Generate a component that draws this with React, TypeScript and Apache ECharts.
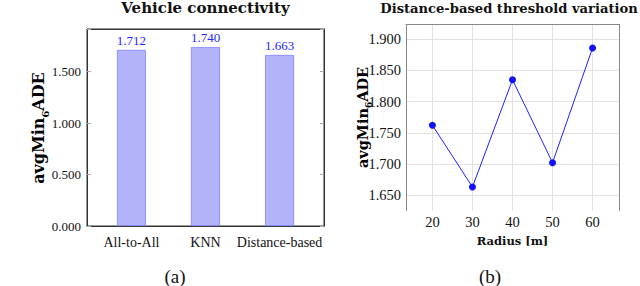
import React, { useEffect, useRef } from "react";
import * as echarts from "echarts";

const categories = ["All-to-All", "KNN", "Distance-based"];
const connectivityValues = [1.712, 1.74, 1.663];
const radii = [20, 30, 40, 50, 60];
const radiusValues = [1.762, 1.663, 1.835, 1.702, 1.886];
const leftYTicks = [0, 0.5, 1.0, 1.5];
const rightYTicks = [1.65, 1.7, 1.75, 1.8, 1.85, 1.9];
const rightXTicks = [20, 30, 40, 50, 60];
const titles = ["Vehicle connectivity", "Distance-based threshold variation"];
const captions = ["(a)", "(b)"];
const yAxisTitle = ["avgMin", "6", "ADE"];

const SERIF = "Liberation Serif";
const BOLD = "DejaVu Serif";

export default function App() {
  const ref = useRef<HTMLDivElement>(null);
  useEffect(() => {
    if (!ref.current) return;
    const chart = echarts.init(ref.current, null, { renderer: "svg" });
    const yNameText = (x: number, y: number, size: number) => ({
      type: "text", x, y, rotation: Math.PI / 2,
      style: {
        text: `{a|${yAxisTitle[0]}}{s|${yAxisTitle[1]}}{a|${yAxisTitle[2]}}`,
        textAlign: "center", textVerticalAlign: "middle",
        rich: {
          a: { fontFamily: BOLD, fontWeight: "bold", fontSize: size, fill: "#000" },
          s: { fontFamily: BOLD, fontWeight: "bold", fontSize: size * 0.62, fill: "#000", verticalAlign: "bottom", padding: [0, 0, -4, 0] },
        },
      },
    });
    const leftLine = () => ({ show: true, onZero: false, lineStyle: { color: "#333", width: 1 } });
    const rightLine = () => ({ show: true, onZero: false, lineStyle: { color: "#888", width: 1 } });
    chart.setOption({
      animation: false,
      grid: [
        { left: 87, top: 29, width: 237, height: 197, show: true, borderColor: "#333", borderWidth: 1, backgroundColor: "transparent" },
        { left: 406, top: 24.3, width: 213, height: 186.4, show: false },
      ],
      xAxis: [
        {
          gridIndex: 0, type: "value", min: -0.6, max: 2.6, position: "bottom",
          axisLine: leftLine(),
          axisTick: { show: false },
          axisLabel: {
            customValues: [0, 1, 2], margin: 9,
            formatter: (v: number) => categories[Math.round(v)] ?? "",
            fontFamily: SERIF, fontSize: 14, color: "#111",
          },
          splitLine: { show: false },
        },
        {
          gridIndex: 0, type: "value", min: -0.6, max: 2.6, position: "top",
          axisLine: leftLine(),
          axisTick: { show: false },
          axisLabel: { show: false },
          splitLine: { show: false },
        },
        {
          gridIndex: 1, type: "value", min: 13.4, max: 66.6, position: "bottom",
          axisLine: { show: false, onZero: false },
          axisTick: { show: false, customValues: rightXTicks },
          axisLabel: { customValues: rightXTicks, margin: 4, fontFamily: SERIF, fontSize: 14.5, color: "#111" },
          splitLine: { show: true, lineStyle: { color: "#e2e2e2", width: 1 } },
          name: "Radius [m]", nameLocation: "middle", nameGap: 20,
          nameTextStyle: { fontFamily: BOLD, fontWeight: "bold", fontSize: 11.5, color: "#111" },
        },
        {
          gridIndex: 1, type: "value", min: 13.4, max: 66.6, position: "top",
          axisLine: rightLine(),
          axisTick: { show: false }, axisLabel: { show: false }, splitLine: { show: false },
        },
      ],
      yAxis: [
        {
          gridIndex: 0, type: "value", min: 0, max: 1.915, interval: 0.5, position: "left",
          axisLine: leftLine(),
          axisTick: { show: true, inside: true, length: 4, lineStyle: { color: "#aaa" } },
          axisLabel: { customValues: leftYTicks, margin: 6, formatter: (v: number) => v.toFixed(3), fontFamily: SERIF, fontSize: 13, color: "#111" },
          splitLine: { show: false },
        },
        {
          gridIndex: 0, type: "value", min: 0, max: 1.915, interval: 0.5, position: "right",
          axisLine: leftLine(),
          axisTick: { show: true, inside: true, length: 4, lineStyle: { color: "#aaa" } },
          axisLabel: { show: false }, splitLine: { show: false },
        },
        {
          gridIndex: 1, type: "value", min: 1.625, max: 1.924, position: "left",
          axisLine: rightLine(),
          axisTick: { show: false, customValues: rightYTicks },
          axisLabel: { customValues: rightYTicks, margin: 5, formatter: (v: number) => v.toFixed(3), fontFamily: SERIF, fontSize: 14.5, color: "#111" },
          splitLine: { show: true, lineStyle: { color: "#e2e2e2", width: 1 } },
        },
        {
          gridIndex: 1, type: "value", min: 1.625, max: 1.924, position: "right",
          axisLine: rightLine(),
          axisTick: { show: false }, axisLabel: { show: false }, splitLine: { show: false },
        },
      ],
      series: [
        {
          type: "bar", xAxisIndex: 0, yAxisIndex: 0, barWidth: 29,
          data: connectivityValues.map((v, i) => [i, v]),
          itemStyle: { color: "#b3b3fa", borderColor: "#8080ff", borderWidth: 0.8 },
          label: {
            show: true, position: "top", distance: 3,
            formatter: (p: any) => p.value[1].toFixed(3),
            fontFamily: SERIF, fontSize: 13, color: "#2626ff",
          },
        },
        {
          type: "line", xAxisIndex: 2, yAxisIndex: 2,
          data: radii.map((r, i) => [r, radiusValues[i]]),
          symbol: "circle", symbolSize: 7,
          lineStyle: { color: "#2020ff", width: 1 },
          itemStyle: { color: "#1010ff" },
        },
      ],
      graphic: [
        { type: "text", x: 205.5, y: 8, style: { text: titles[0], fontFamily: BOLD, fontWeight: "bold", fontSize: 15, fill: "#111", textAlign: "center", textVerticalAlign: "middle" } },
        { type: "text", x: 509, y: 8, style: { text: titles[1], fontFamily: BOLD, fontWeight: "bold", fontSize: 13.1, fill: "#111", textAlign: "center", textVerticalAlign: "middle" } },
        { type: "text", x: 175, y: 276, style: { text: captions[0], fontFamily: SERIF, fontSize: 19, fill: "#111", textAlign: "center", textVerticalAlign: "middle" } },
        { type: "text", x: 490, y: 276, style: { text: captions[1], fontFamily: SERIF, fontSize: 19, fill: "#111", textAlign: "center", textVerticalAlign: "middle" } },
        yNameText(38, 128, 16),
        yNameText(362, 117.5, 14.5),
      ],
    });
    return () => chart.dispose();
  }, []);
  return (
    <div
      ref={ref}
      style={{ position: "absolute", left: 0, top: 0, width: 640, height: 286, background: "#fff" }}
    />
  );
}
